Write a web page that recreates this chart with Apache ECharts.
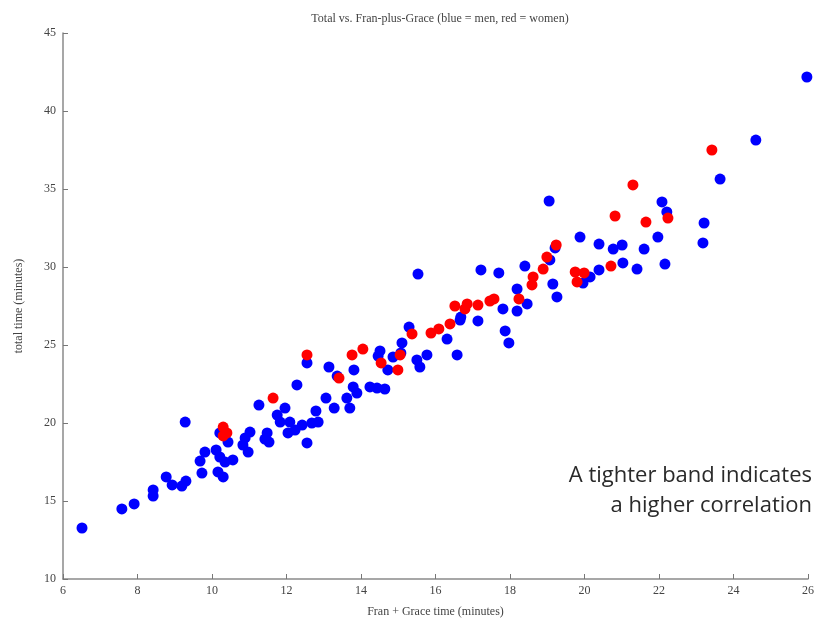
<!DOCTYPE html>
<html>
<head>
<meta charset="utf-8">
<script src="https://cdn.jsdelivr.net/npm/echarts@6/dist/echarts.min.js"></script>
<style>html,body{margin:0;padding:0;background:#fff}#c{width:820px;height:624px}</style>
</head>
<body>
<div id="c"></div>
<script>
const xTicks = [6, 8, 10, 12, 14, 16, 18, 20, 22, 24, 26];
const yTicks = [10, 15, 20, 25, 30, 35, 40, 45];

// men (blue): [Fran + Grace time, total time]
const menX = [6.51,7.58,7.91,8.42,8.42,8.77,8.93,9.19,9.30,9.28,9.73,9.68,9.81,10.11,10.21,10.35,10.56,10.16,10.30,10.21,
  10.43,10.83,10.89,11.02,10.97,11.26,11.48,11.42,11.53,11.96,11.75,11.83,12.09,12.23,12.04,12.28,12.42,12.68,12.85,12.55,
  12.55,13.14,13.36,13.81,13.06,13.62,13.28,13.70,12.79,13.79,13.89,14.24,14.43,14.64,14.51,14.46,14.72,15.10,14.86,15.07,
  15.50,15.58,15.77,16.31,15.29,15.53,16.68,16.66,17.14,17.81,18.19,17.87,17.97,16.58,17.22,17.70,18.40,18.19,18.46,19.05,
  19.21,19.07,19.15,19.26,19.88,20.39,20.77,21.01,21.60,21.97,23.18,21.03,21.41,22.16,20.39,20.15,19.96,22.08,22.21,23.21,
  23.64,24.60,25.97];
const menY = [13.27,14.49,14.81,15.71,15.32,16.54,16.03,15.96,16.28,20.06,16.79,17.56,18.14,18.27,17.82,17.50,17.63,16.86,16.54,19.36,
  18.78,18.59,19.04,19.42,18.14,21.15,19.36,18.97,18.78,20.96,20.51,20.06,20.06,19.55,19.36,22.44,19.87,20.00,20.06,18.72,
  23.85,23.59,23.01,23.40,21.60,21.60,20.96,20.96,20.77,22.31,21.92,22.31,22.24,22.18,24.62,24.29,23.40,25.13,24.23,24.49,
  24.04,23.59,24.36,25.38,26.15,29.55,26.79,26.60,26.54,27.31,27.18,25.90,25.13,24.36,29.81,29.62,30.06,28.59,27.63,34.23,
  31.22,30.45,28.91,28.08,31.92,31.47,31.15,31.41,31.15,31.92,31.54,30.26,29.87,30.19,29.81,29.36,28.97,34.17,33.53,32.82,
  35.64,38.14,42.18];

// women (red)
const womenX = [10.30,10.40,10.30,11.64,12.55,13.41,13.76,14.05,14.54,15.05,14.99,15.37,15.88,16.09,16.39,16.52,16.85,16.79,17.14,17.46,
  17.57,18.24,18.62,18.59,18.89,18.99,19.24,19.75,19.99,19.80,20.71,20.82,21.30,21.65,22.24,23.42];
const womenY = [19.74,19.36,19.17,21.60,24.36,22.88,24.36,24.74,23.85,24.36,23.40,25.71,25.77,26.03,26.35,27.50,27.63,27.31,27.56,27.82,
  27.95,27.95,29.36,28.85,29.87,30.64,31.41,29.68,29.62,29.04,30.06,33.27,35.26,32.88,33.14,37.50];

const titleText = 'Total vs. Fran-plus-Grace (blue = men, red = women)';
const xName = 'Fran + Grace time (minutes)';
const yName = 'total time (minutes)';
const note = ['A tighter band indicates', 'a higher correlation'];

const zip = (xs, ys) => xs.map((x, i) => [x, ys[i]]);
const serif = '"Liberation Serif", "DejaVu Serif", serif';
const axisCommon = {
  axisLine: { show: true, lineStyle: { color: '#8a8a8a', width: 1.5 } },
  axisTick: { show: true, inside: true, length: 5, lineStyle: { color: '#777', width: 1 } },
  axisLabel: { color: '#444', fontFamily: serif, fontSize: 12 },
  splitLine: { show: false },
  nameTextStyle: { color: '#444', fontFamily: serif, fontSize: 12 }
};

const chart = echarts.init(document.getElementById('c'), null, { renderer: 'canvas' });
chart.setOption({
  animation: false,
  backgroundColor: '#fff',
  title: {
    text: titleText, left: 435, top: 8, textAlign: 'center',
    textStyle: { fontFamily: serif, fontSize: 12, fontWeight: 'normal', color: '#444' }
  },
  grid: { left: 63, right: 12, top: 33, bottom: 45, containLabel: false },
  xAxis: Object.assign({}, axisCommon, {
    type: 'value', min: 6, max: 26, interval: 2,
    name: xName, nameLocation: 'middle', nameGap: 27,
    axisLabel: Object.assign({}, axisCommon.axisLabel, { margin: 6 })
  }),
  yAxis: Object.assign({}, axisCommon, {
    type: 'value', min: 10, max: 45, interval: 5,
    name: yName, nameLocation: 'middle', nameGap: 38, nameRotate: 90,
    axisLabel: Object.assign({}, axisCommon.axisLabel, { margin: 7 })
  }),
  series: [
    { name: 'men', type: 'scatter', data: zip(menX, menY), symbolSize: 11,
      itemStyle: { color: '#0000ff', opacity: 1 } },
    { name: 'women', type: 'scatter', data: zip(womenX, womenY), symbolSize: 11,
      itemStyle: { color: '#ff0000', opacity: 1 } }
  ],
  graphic: [
    { type: 'text', x: 812, y: 476, style: { text: note[0], fill: '#2a2a2a', font: '400 22px "Open Sans", sans-serif', align: 'right', verticalAlign: 'middle' } },
    { type: 'text', x: 812, y: 506, style: { text: note[1], fill: '#2a2a2a', font: '400 22px "Open Sans", sans-serif', align: 'right', verticalAlign: 'middle' } }
  ]
});
</script>
</body>
</html>
